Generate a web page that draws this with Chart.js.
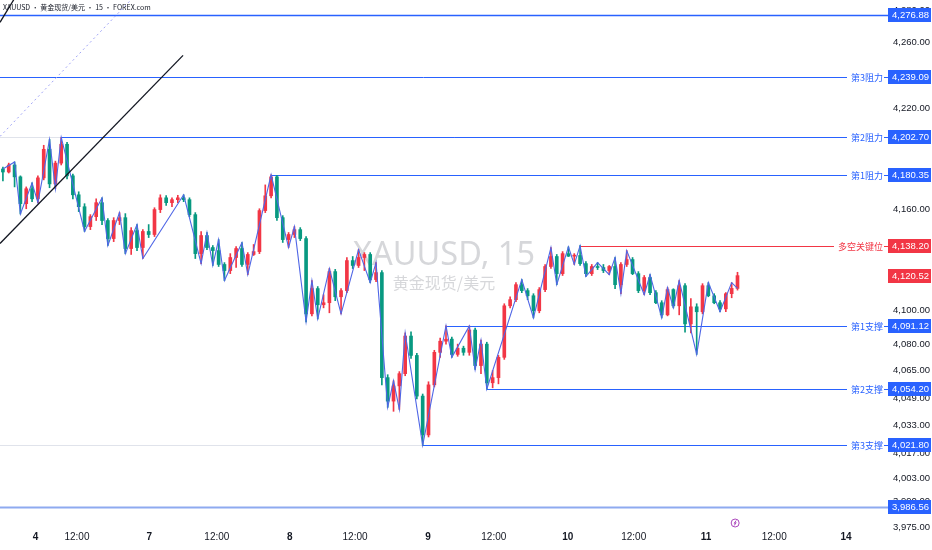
<!DOCTYPE html>
<html>
<head>
<meta charset="utf-8">
<script src="https://cdn.jsdelivr.net/npm/chart.js@4.4.1/dist/chart.umd.min.js"></script>
<style>
  html, body { margin: 0; padding: 0; background: #fff; }
  #c { display: block; }
</style>
</head>
<body>
<canvas id="c" width="932" height="550"></canvas>
<script>
// XAUUSD candles, one per slot
var opens  = [4183.8,4182.0,4186.2,4179.1,4163.1,4172.0,4166.0,4178.5,4195.6,4174.9,
              4187.3,4198.6,4179.7,4168.4,4161.3,4149.5,4155.4,4163.7,4153.1,4142.4,
              4153.1,4154.8,4136.5,4147.1,4137.1,4146.6,4144.8,4159.6,4166.6,4163.7,
              4165.5,4166.6,4165.5,4156.6,4133.5,4144.2,4137.1,4135.3,4127.1,4123.5,
              4131.2,4136.5,4127.1,4133.0,4134.7,4159.0,4167.8,4179.1,4154.8,4141.8,
              4144.8,4147.7,4142.4,4098.1,4112.9,4103.4,4104.6,4122.9,4108.1,4111.7,
              4129.4,4126.5,4131.2,4133.0,4118.2,4122.3,4060.9,4047.3,4056.1,4063.2,
              4085.1,4073.8,4050.2,4027.8,4056.7,4075.6,4082.1,4083.3,4074.4,4078.0,
              4075.6,4088.6,4067.9,4080.4,4057.9,4060.9,4072.7,4102.8,4106.4,4115.2,
              4111.7,4108.7,4099.9,4112.3,4125.9,4131.8,4121.7,4133.5,4132.0,4132.4,
              4127.6,4121.7,4125.9,4125.3,4123.5,4125.9,4115.2,4127.1,4130.0,4121.7,
              4111.7,4119.4,4110.5,4104.6,4097.5,4112.3,4102.8,4114.6,4092.2,4102.2,
              4099.3,4114.6,4108.7,4104.6,4101.0,4109.9,4113.0];
var highs  = [4185.0,4187.3,4188.0,4179.7,4173.1,4175.5,4179.7,4198.0,4201.5,4188.5,
              4202.7,4199.8,4180.8,4170.2,4163.1,4156.6,4166.0,4166.6,4154.2,4154.8,
              4157.8,4157.2,4148.9,4150.7,4147.7,4150.7,4160.7,4168.4,4167.9,4166.6,
              4168.1,4168.4,4166.6,4157.8,4146.5,4146.0,4138.3,4141.8,4128.2,4133.5,
              4137.7,4140.1,4134.1,4138.9,4160.1,4174.3,4180.35,4180.0,4156.0,4146.0,
              4149.5,4148.9,4143.6,4117.6,4114.1,4109.3,4124.7,4124.2,4112.9,4131.2,
              4131.8,4135.9,4134.1,4134.1,4128.2,4123.5,4062.6,4059.1,4064.4,4086.9,
              4087.5,4075.0,4051.4,4058.5,4076.8,4083.9,4091.12,4084.5,4080.4,4079.2,
              4091.0,4089.8,4082.7,4081.5,4065.0,4073.8,4104.0,4108.1,4116.4,4118.2,
              4112.9,4109.9,4113.5,4127.1,4137.1,4133.0,4134.7,4137.5,4133.5,4138.2,
              4128.8,4127.1,4128.2,4127.1,4126.5,4131.2,4128.2,4135.3,4131.2,4122.9,
              4120.6,4121.2,4111.7,4105.8,4113.5,4112.8,4117.6,4115.8,4107.0,4104.0,
              4115.8,4116.4,4109.9,4105.8,4110.5,4116.4,4122.5];
var lows   = [4176.7,4181.4,4173.1,4157.0,4160.1,4164.3,4163.7,4177.3,4172.6,4172.0,
              4186.2,4177.9,4166.0,4158.4,4146.6,4147.7,4153.1,4150.7,4138.3,4140.6,
              4150.7,4133.5,4133.0,4135.3,4130.6,4143.0,4143.6,4157.8,4162.0,4161.3,
              4163.7,4164.3,4155.4,4130.6,4127.6,4135.9,4126.5,4125.9,4117.6,4121.7,
              4125.3,4125.9,4121.1,4132.4,4133.5,4157.8,4166.6,4153.1,4140.1,4137.1,
              4143.0,4141.2,4093.4,4096.9,4095.1,4101.6,4098.7,4105.8,4098.1,4110.5,
              4124.7,4125.3,4123.5,4116.4,4117.0,4056.7,4043.7,4041.4,4042.5,4062.0,
              4072.1,4048.5,4021.8,4026.6,4055.5,4072.7,4080.4,4072.7,4073.3,4073.9,
              4073.9,4065.6,4063.2,4054.2,4055.0,4057.3,4071.5,4101.6,4105.2,4110.5,
              4106.4,4095.7,4098.7,4111.1,4124.7,4115.2,4120.6,4131.8,4127.1,4126.5,
              4120.0,4120.6,4124.1,4122.3,4121.1,4112.9,4109.9,4125.9,4121.1,4110.5,
              4109.3,4109.3,4104.0,4095.7,4096.9,4101.6,4097.5,4087.4,4086.9,4074.4,
              4098.1,4108.1,4104.0,4099.3,4099.3,4107.5,4112.0];
var closes = [4182.0,4186.2,4179.1,4163.1,4172.0,4166.0,4178.5,4195.6,4174.9,4187.3,
              4198.6,4179.7,4168.4,4161.3,4149.5,4155.4,4163.7,4153.1,4142.4,4153.1,
              4154.8,4136.5,4147.1,4137.1,4146.6,4144.8,4159.6,4166.6,4163.7,4165.5,
              4166.6,4165.5,4156.6,4133.5,4144.2,4137.1,4135.3,4127.1,4123.5,4131.2,
              4136.5,4127.1,4133.0,4134.7,4159.0,4167.8,4179.1,4154.8,4141.8,4144.8,
              4147.7,4142.4,4098.1,4112.9,4103.4,4104.6,4122.9,4108.1,4111.7,4129.4,
              4126.5,4131.2,4133.0,4118.2,4122.3,4060.9,4047.3,4056.1,4063.2,4085.1,
              4073.8,4050.2,4027.8,4056.7,4075.6,4082.1,4083.3,4074.4,4078.0,4075.6,
              4088.6,4067.9,4080.4,4057.9,4060.9,4072.7,4102.8,4106.4,4115.2,4111.7,
              4108.7,4099.9,4112.3,4125.9,4131.8,4121.7,4133.5,4132.0,4132.4,4127.6,
              4121.7,4125.9,4125.3,4123.5,4125.9,4115.2,4127.1,4130.0,4121.7,4111.7,
              4119.4,4110.5,4104.6,4097.5,4112.3,4102.8,4114.6,4092.2,4102.2,4099.3,
              4114.6,4108.7,4104.6,4101.0,4109.9,4113.0,4120.52];

// zigzag pivots (slot index, price)
var zigBars   = [0,2,3,5,6,8,9,10,14,17,18,20,21,23,24,31,34,35,36,37,38,41,42,46,49,50,
                 52,53,54,56,58,61,63,64,66,67,68,69,72,76,77,80,81,82,83,89,91,94,95,97,
                 98,99,100,102,104,105,106,107,110,111,113,114,115,116,119,121,123,125,126];
var zigPrices = [4183.8,4188.0,4157.0,4175.5,4163.7,4201.5,4172.0,4202.7,4146.6,4166.6,
                 4138.3,4157.8,4133.5,4150.7,4130.6,4168.4,4127.6,4146.0,4126.5,4141.8,
                 4117.6,4140.1,4121.1,4180.35,4137.1,4149.5,4093.4,4117.6,4095.1,4124.7,
                 4098.1,4135.9,4116.4,4128.2,4043.7,4059.1,4042.5,4086.9,4021.8,4091.12,
                 4072.7,4091.0,4065.6,4082.7,4054.2,4118.2,4095.7,4137.1,4115.2,4137.5,
                 4127.1,4138.2,4120.0,4128.2,4121.1,4131.2,4109.9,4135.3,4109.3,4121.2,
                 4095.7,4113.5,4101.6,4117.6,4074.4,4116.4,4099.3,4116.4,4113.0];

// time axis
var timeSlots  = [5.6, 12.7, 25.1, 36.7, 49.2, 60.4, 72.9, 84.2, 96.9, 108.2, 120.6, 132.3, 144.6];
var timeLabels = ["4", "12:00", "7", "12:00", "8", "12:00", "9", "12:00", "10", "12:00", "11", "12:00", "14"];

// price axis (log scale)
var priceTicks = [4280, 4260, 4220, 4160, 4140, 4100, 4080, 4065, 4049, 4033, 4017, 4003, 3990, 3975];

// horizontal levels drawn on the chart
var levelPrices  = [4276.88, 4239.09, 4202.70, 4180.35, 4138.20, 4091.12, 4054.20, 4021.80, 3986.56];
var levelNames   = ["", "第3阻力", "第2阻力", "第1阻力", "多空关键位", "第1支撑", "第2支撑", "第3支撑", ""];
var levelFromBar = [null, null, 10, 46, 99, 76, 83, 72, null];
var ghostLevels  = [4202.70, 4021.80];
var lastPrice = 4120.52;

// trend lines (slot, price)
var trendBars   = [-0.5, 30.9];
var trendPrices = [4139.5, 4252.3];
var trend2Bars   = [-0.5, 2.5];
var trend2Prices = [4272.4, 4290.0];
var fibBars   = [-0.5, 25];
var fibPrices = [4203.3, 4297.5];
var eventBar = 125.6;

var UP = "#f23645", DOWN = "#089981", BLUE = "#2962ff";

function fmt(v) {
    return v.toLocaleString("en-US", { minimumFractionDigits: 2, maximumFractionDigits: 2 });
}
function pts(xs, ys) {
    return xs.map(function (x, i) { return { x: x, y: ys[i] }; });
}

var candleColors = closes.map(function (c, i) { return c >= opens[i] ? UP : DOWN; });
var bodies = closes.map(function (c, i) { return { x: i, y: [opens[i], c] }; });
var wicks = closes.map(function (c, i) { return { x: i, y: [lows[i], highs[i]] }; });

// watermark, header, level lines and price tags
var backdrop = {
    id: "backdrop",
    beforeDatasetsDraw: function (chart) {
        var ctx = chart.ctx, a = chart.chartArea;
        ctx.save();
        ctx.fillStyle = "rgba(120,123,134,0.3)";
        ctx.textAlign = "center";
        ctx.textBaseline = "alphabetic";
        ctx.font = '32.5px "Noto Sans"';
        ctx.fillText("XAUUSD, 15", 444, 265);
        ctx.font = '16px "Noto Sans CJK SC"';
        ctx.fillText("黄金现货/美元", 444, 289);

        ctx.textAlign = "left";
        ctx.fillStyle = "#131722";
        ctx.font = '7px "Noto Sans CJK SC"';
        ctx.fillText("XAUUSD • 黄金现货/美元 • 15 • FOREX.com", 3, 10);

        var xs = chart.scales.x, ys = chart.scales.y;
        ctx.font = '9px "Noto Sans CJK SC"';
        levelPrices.forEach(function (p, i) {
            var y = Math.round(ys.getPixelForValue(p)) + 0.5;
            var from = levelFromBar[i];
            var x0 = from === null ? a.left : xs.getPixelForValue(from);
            var key = levelNames[i] === "多空关键位";
            var bottom = i === levelPrices.length - 1;
            if (ghostLevels.indexOf(p) >= 0) {
                ctx.strokeStyle = "#e0e3eb";
                ctx.lineWidth = 1;
                ctx.beginPath(); ctx.moveTo(a.left, y); ctx.lineTo(x0, y); ctx.stroke();
            }
            ctx.strokeStyle = key ? UP : (bottom ? "#8eaaf0" : BLUE);
            ctx.lineWidth = bottom ? 2 : (i === 0 ? 1.3 : 1);
            ctx.beginPath();
            if (levelNames[i]) {
                var w = ctx.measureText(levelNames[i]).width;
                ctx.moveTo(x0, y); ctx.lineTo(a.right - 2 - w - 4, y);
                ctx.moveTo(a.right - 1, y); ctx.lineTo(a.right + 3, y);
            } else {
                ctx.moveTo(x0, y); ctx.lineTo(a.right + 3, y);
            }
            ctx.stroke();
        });
        ctx.restore();
    },
    afterDraw: function (chart) {
        var ctx = chart.ctx, a = chart.chartArea;
        var xs = chart.scales.x, ys = chart.scales.y;
        ctx.save();
        ctx.textBaseline = "middle";
        function box(p, color) {
            var y = Math.round(ys.getPixelForValue(p));
            ctx.fillStyle = color;
            ctx.fillRect(a.right + 3, y - 7, 43, 14);
            ctx.fillStyle = "#fff";
            ctx.font = '9.5px "Liberation Sans"';
            ctx.textAlign = "left";
            ctx.fillText(fmt(p), a.right + 7, y + 0.5);
        }
        levelPrices.forEach(function (p, i) {
            var key = levelNames[i] === "多空关键位";
            box(p, key ? UP : BLUE);
            if (levelNames[i]) {
                var y = Math.round(ys.getPixelForValue(p));
                ctx.fillStyle = key ? UP : BLUE;
                ctx.font = '9px "Noto Sans CJK SC"';
                ctx.textAlign = "right";
                ctx.fillText(levelNames[i], a.right - 2, y + 0.5);
            }
        });
        box(lastPrice, UP);

        // economic event marker
        var ex = xs.getPixelForValue(eventBar), ey = a.bottom + 1;
        ctx.strokeStyle = "#ab47bc";
        ctx.lineWidth = 1;
        ctx.beginPath(); ctx.arc(ex, ey, 4, 0, Math.PI * 2); ctx.stroke();
        ctx.beginPath();
        ctx.moveTo(ex + 1, ey - 2.5); ctx.lineTo(ex - 1, ey + 0.3); ctx.lineTo(ex + 1, ey - 0.3); ctx.lineTo(ex - 1, ey + 2.5);
        ctx.stroke();
        ctx.restore();
    }
};

new Chart(document.getElementById("c"), {
    type: "bar",
    data: {
        datasets: [
            { type: "line", data: pts(trendBars, trendPrices), borderColor: "#131722", borderWidth: 1.3, pointRadius: 0, order: 1 },
            { type: "line", data: pts(trend2Bars, trend2Prices), borderColor: "#131722", borderWidth: 1.3, pointRadius: 0, order: 1 },
            { type: "line", data: pts(fibBars, fibPrices), borderColor: "#9fa3f5", borderDash: [2, 3], borderWidth: 1, pointRadius: 0, order: 1 },
            { type: "line", data: pts(zigBars, zigPrices), borderColor: "#4f66e6", borderWidth: 1.1, pointRadius: 0, tension: 0, order: 3 },
            { data: bodies, backgroundColor: candleColors, barThickness: 3, minBarLength: 1, grouped: false, order: 5 },
            { data: wicks, backgroundColor: candleColors, barThickness: 1, grouped: false, order: 6 }
        ]
    },
    options: {
        responsive: false,
        animation: false,
        events: [],
        layout: { padding: 0 },
        plugins: { legend: { display: false }, tooltip: { enabled: false } },
        scales: {
            x: {
                type: "linear", min: -0.5, max: 151.3, offset: false,
                afterBuildTicks: function (s) { s.ticks = timeSlots.map(function (v) { return { value: v }; }); },
                afterFit: function (s) { s.height = 28; s.paddingLeft = 0; s.paddingRight = 0; },
                grid: { display: false, drawTicks: false }, border: { display: false },
                ticks: {
                    autoSkip: false, maxRotation: 0, padding: 9, color: "#131722",
                    font: function (c) {
                        return { family: "Liberation Sans", size: 10, weight: timeLabels[c.index] === "12:00" ? "normal" : "bold" };
                    },
                    callback: function (v, i) { return timeLabels[i]; }
                }
            },
            y: {
                type: "logarithmic", position: "right", min: 3977.98, max: 4286.06,
                afterBuildTicks: function (s) { s.ticks = priceTicks.map(function (v) { return { value: v }; }); },
                afterFit: function (s) { s.width = 47; s.paddingTop = 0; s.paddingBottom = 0; },
                grid: { display: false, drawTicks: false }, border: { display: false },
                ticks: {
                    padding: 8, color: "#131722",
                    font: { family: "Liberation Sans", size: 9.5 },
                    callback: function (v) { return fmt(v); }
                }
            }
        }
    },
    plugins: [backdrop]
});
</script>
</body>
</html>
